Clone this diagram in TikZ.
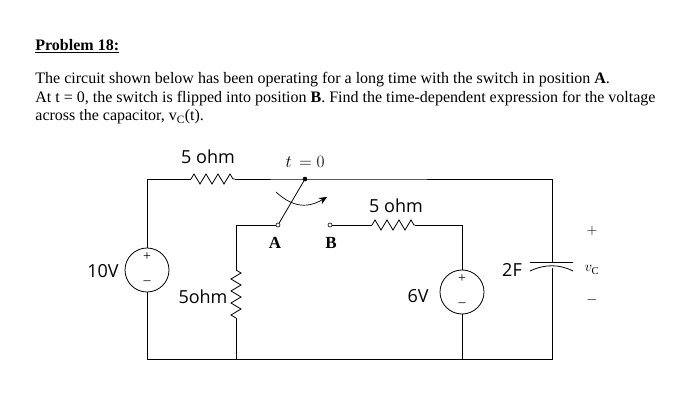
\documentclass[tikz,border=0pt]{standalone}
\usepackage{fontspec}
\setmainfont{Liberation Serif}
\newfontfamily\lab{Open Sans}
\usetikzlibrary{arrows.meta,decorations.pathmorphing}
\begin{document}
\begin{tikzpicture}[x=1pt,y=-1pt,line width=0.8pt,
 txt/.style={anchor=west,inner sep=0,font=\fontsize{16}{19}\selectfont},
 lbl/.style={inner sep=0,font=\lab\fontsize{18}{21}\selectfont},
 res/.style={decorate,decoration={zigzag,segment length=12pt,amplitude=5pt}},
 src/.style={circle,draw,minimum size=44pt,inner sep=0},
 sgn/.style={inner sep=0,font=\fontsize{14}{16}\selectfont},
 term/.style={circle,draw,fill=white,inner sep=0,minimum size=4pt,line width=0.6pt}]
\useasboundingbox (0,0) rectangle (691,406);
\node[txt] (title) at (35,46) {\textbf{\underline{Problem 18:}}};
\node[txt] (l1) at (35,80) {The circuit shown below has been operating for a long time with the switch in position \textbf{A}.};
\node[txt] (l2) at (35,99) {At t = 0, the switch is flipped into position \textbf{B}. Find the time-dependent expression for the voltage};
\node[txt] (l3) at (35,117) {across the capacitor, v\textsubscript{C}(t).};
% sources
\node[src] (s10) at (147,270) {};
\node[sgn] at (147,257) {+};
\node[sgn] at (147,283) {--};
\node[src] (s6) at (462,292) {};
\node[sgn] at (462,279) {+};
\node[sgn] at (462,305) {--};
% coordinates
\coordinate (tl) at (147,179);
\coordinate (bl) at (147,359);
\coordinate (piv) at (305,179);
\coordinate (tr) at (552,179);
\coordinate (br) at (552,359);
\node[term] (A) at (278,225) {};
\node[term] (B) at (330,225) {};
\coordinate (ai) at (236,225);
\coordinate (ab) at (236,359);
\coordinate (r6) at (462,225);
\coordinate (b6) at (462,359);
% wires
\draw (s10.north) -- (tl) -- (191,179);
\draw[res] (191,179) -- (235,179);
\draw (235,179) -- (piv) -- (tr) -- (552,262);
\draw (552,268) -- (br) -- (bl) -- (s10.south);
\draw (A) -- (ai) -- (236,270);
\draw[res] (236,270) -- (236,318);
\draw (236,318) -- (ab);
\draw (B) -- (372,225);
\draw[res] (372,225) -- (415,225);
\draw (415,225) -- (r6) -- (s6.north);
\draw (s6.south) -- (b6);
% capacitor
\draw (530,262) -- (573,262);
\draw (530,271) .. controls (545,264) and (559,264) .. (573,271);
% switch
\fill (piv) circle (2.3pt);
\draw (piv) -- (A);
\draw[-{Stealth[length=8pt,width=7pt]},line width=0.7pt] (276,192) .. controls (290,205) and (305,210) .. (327,197);
% labels
\node[lbl] at (208,157) {5 ohm};
\node[inner sep=0,font=\fontsize{16}{19}\selectfont] at (305,162) {$t\,=0$};
\node[lbl] at (396,206) {5 ohm};
\node[inner sep=0,font=\bfseries\fontsize{17}{20}\selectfont] at (275,243) {A};
\node[inner sep=0,font=\bfseries\fontsize{17}{20}\selectfont] at (331,243) {B};
\node[lbl] at (103,271) {10V};
\node[lbl] at (203,297) {5ohm};
\node[lbl] at (418,296) {6V};
\node[lbl] at (512,270) {2F};
\node[inner sep=0,font=\fontsize{15}{18}\selectfont] at (592,231) {$+$};
\node[inner sep=0,font=\fontsize{15}{18}\selectfont] at (592,270) {$v_{\mathrm{C}}$};
\node[inner sep=0,font=\fontsize{15}{18}\selectfont] at (592,300) {$-$};
\end{tikzpicture}
\end{document}
